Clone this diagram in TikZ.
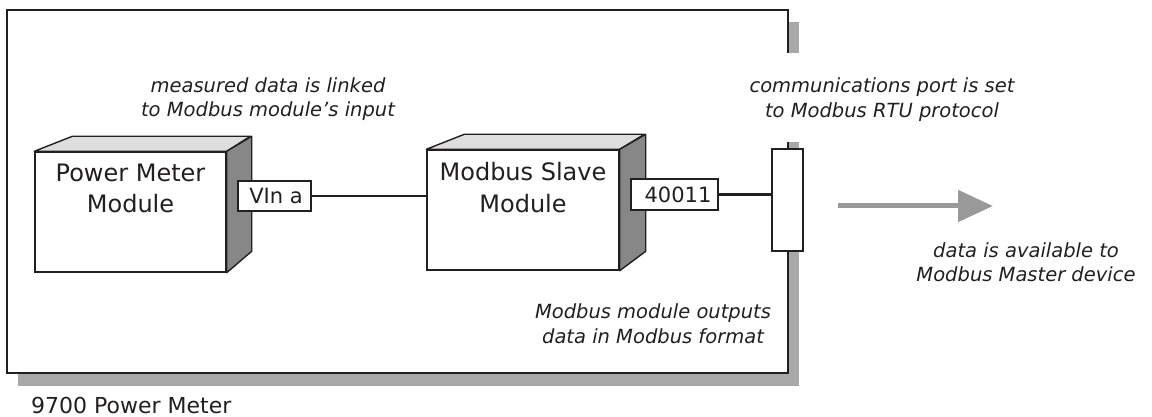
\documentclass[tikz,border=0pt]{standalone}
\usepackage{fontspec}
\setmainfont{DejaVu Sans}
\usetikzlibrary{arrows.meta}
\definecolor{ink}{HTML}{231F20}
\definecolor{shadowgray}{HTML}{A8A8A8}
\definecolor{topgray}{HTML}{DEDEDE}
\definecolor{sidegray}{HTML}{878787}
\definecolor{arrowgray}{HTML}{999999}
\tikzset{
  face/.style={draw=ink, fill=white, line width=1.4pt, inner sep=0pt, rectangle},
  topface/.style={draw=ink, fill=topgray, line width=1.4pt, line join=round},
  sideface/.style={draw=ink, fill=sidegray, line width=1.4pt, line join=round},
  tag/.style={draw=ink, fill=white, line width=1.2pt, inner sep=0pt, rectangle,
    text=ink, font=\fontsize{21}{25}\selectfont},
  boxtext/.style={anchor=base, inner sep=0pt, text=ink, font=\fontsize{24}{28}\selectfont},
  note/.style={anchor=base, inner sep=0pt, text=ink, font=\fontsize{19.5}{24}\selectfont\itshape},
  wire/.style={draw=ink, line width=1.4pt},
  heavywire/.style={draw=ink, line width=2.6pt},
}
\begin{document}
\begin{tikzpicture}[x=1pt, y=-1pt]
\useasboundingbox (0,0) rectangle (1152,417);

% meter enclosure with its drop shadow
\fill[shadowgray] (18,22) rectangle (799,386);
\node[draw=ink, fill=white, line width=2pt, inner sep=0pt, minimum width=781pt,
  minimum height=363pt] (meter) at (397.5,191.5) {};
\node[anchor=base west, inner sep=0pt, text=ink, font=\fontsize{22}{26}\selectfont]
  (metername) at (31,413) {9700 Power Meter};

% Power Meter module block
\node[face, minimum width=191pt, minimum height=120pt] (pm) at (130.5,212) {};
\filldraw[topface] (pm.north west) -- ++(38,-15) -- ++(178,0) -- (pm.north east) -- cycle;
\filldraw[sideface] (pm.north east) -- ++(25,-15) -- ++(0,115) -- (pm.south east) -- cycle;
\node[boxtext] (pmtxt1) at (130.5,182) {Power Meter};
\node[boxtext] (pmtxt2) at (130.5,212) {Module};
\node[tag, minimum width=73pt, minimum height=30pt] (vin) at (274.5,196) {\hspace*{3pt}VIn a};

% Modbus Slave module block
\node[face, minimum width=192pt, minimum height=120pt] (mb) at (523,210) {};
\filldraw[topface] (mb.north west) -- ++(38,-15) -- ++(180,0) -- (mb.north east) -- cycle;
\filldraw[sideface] (mb.north east) -- ++(26,-15) -- ++(0,117) -- (mb.south east) -- cycle;
\node[boxtext] (mbtxt1) at (523,181) {Modbus Slave};
\node[boxtext] (mbtxt2) at (523,212) {Module};
\node[tag, minimum width=87pt, minimum height=31pt] (reg) at (674.5,194.5) {\hspace*{7pt}40011};

% communications port on the enclosure wall
\node[face, minimum width=31pt, minimum height=102pt] (port) at (787.5,200) {};

% links
\draw[wire] (vin.east) -- (vin.east -| mb.west);
\draw[heavywire] (reg.east) -- (reg.east -| port.west);

% data flow towards the master
\coordinate (flowstart) at (838,206);
\coordinate (flowend) at (993,206);
\draw[arrowgray, line width=5pt, -{Triangle[length=35pt, width=31pt]}] (flowstart) -- (flowend);

% annotations
\node[note] (n1a) at (268,93) {measured data is linked};
\node[note] (n1b) at (268,117) {to Modbus module’s input};
% the port note sits on a white patch that breaks the enclosure wall
\fill[white] (745,53) rectangle (1020,142);
\node[note] (n2a) at (882,93) {communications port is set};
\node[note] (n2b) at (882,118) {to Modbus RTU protocol};
\node[note] (n3a) at (653,318) {Modbus module outputs};
\node[note] (n3b) at (653,343) {data in Modbus format};
\node[note] (n4a) at (1026,257) {data is available to};
\node[note] (n4b) at (1026,281) {Modbus Master device};
\end{tikzpicture}
\end{document}
